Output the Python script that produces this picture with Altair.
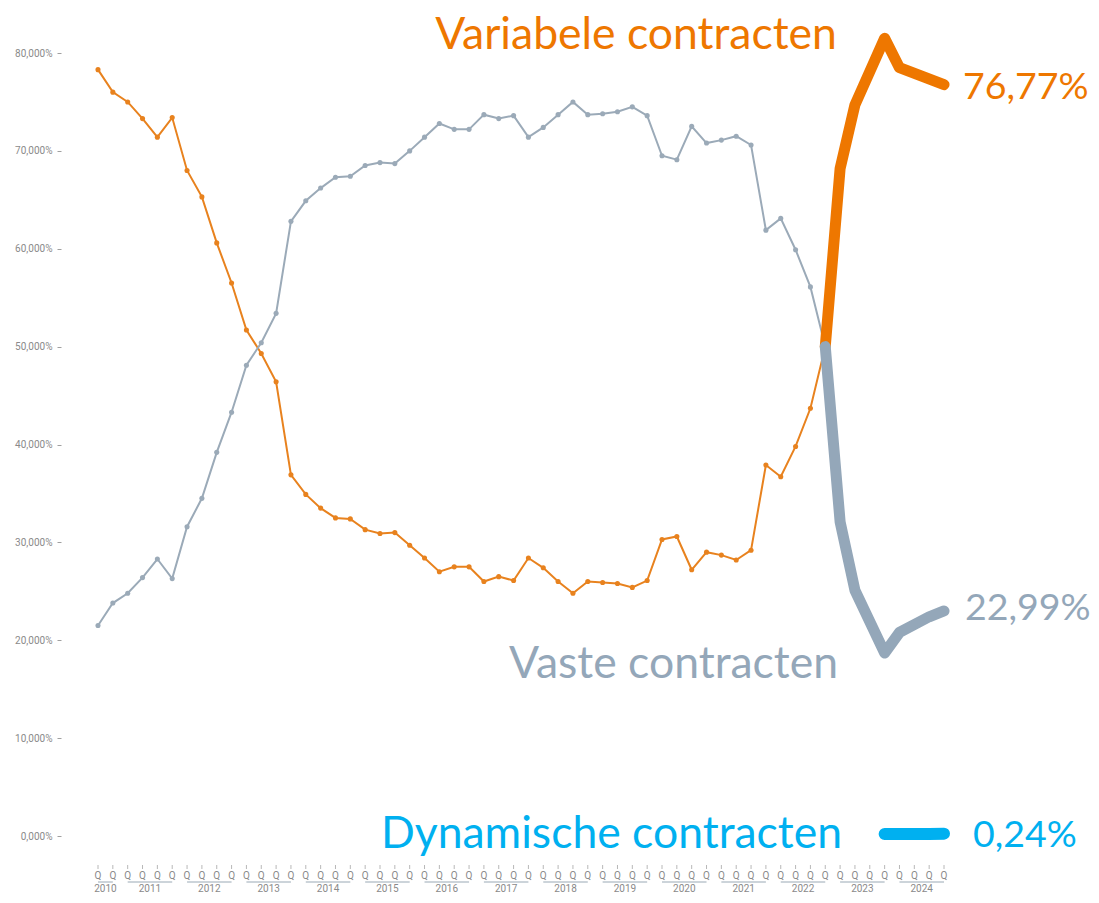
import altair as alt
import pandas as pd

# ---------------- data ----------------
years = [2010, 2011, 2012, 2013, 2014, 2015, 2016, 2017, 2018, 2019, 2020, 2021, 2022, 2023, 2024]
quarters_2010 = [3, 4]          # the series starts in 2010 Q3
quarters_full = [1, 2, 3, 4]

# thin series (2010 Q3 .. 2022 Q4), percent
variabel_thin = [78.3, 76.0, 75.0, 73.3, 71.4, 73.4, 68.0, 65.3, 60.6, 56.5,
                 51.7, 49.3, 46.4, 36.9, 34.9, 33.5, 32.5, 32.4, 31.3, 30.9,
                 31.0, 29.7, 28.4, 27.0, 27.5, 27.5, 26.0, 26.5, 26.1, 28.4,
                 27.4, 26.0, 24.8, 26.0, 25.9, 25.8, 25.4, 26.1, 30.3, 30.6,
                 27.2, 29.0, 28.7, 28.2, 29.2, 37.9, 36.7, 39.8, 43.7, 50.0]
vast_thin = [21.5, 23.8, 24.8, 26.4, 28.3, 26.3, 31.6, 34.5, 39.2, 43.3,
             48.1, 50.4, 53.4, 62.8, 64.9, 66.2, 67.3, 67.4, 68.5, 68.8,
             68.7, 70.0, 71.4, 72.8, 72.2, 72.2, 73.7, 73.3, 73.6, 71.4,
             72.4, 73.7, 75.0, 73.7, 73.8, 74.0, 74.5, 73.6, 69.5, 69.1,
             72.5, 70.8, 71.1, 71.5, 70.6, 61.9, 63.1, 59.9, 56.1, 50.0]

# thick highlighted series (quarter index, percent)
variabel_thick_idx = [49, 50, 51, 53, 54, 57]
variabel_thick = [50.0, 68.2, 74.7, 81.5, 78.5, 76.77]
vast_thick_idx = [49, 50, 51, 53, 54, 56, 57]
vast_thick = [50.0, 32.1, 25.1, 18.7, 20.8, 22.4, 22.99]
dynamisch_thick_idx = [53, 54, 55, 56, 57]
dynamisch_thick = [0.2, 0.2, 0.2, 0.2, 0.24]

labels_text = ["Variabele contracten", "Vaste contracten", "Dynamische contracten",
               "76,77%", "22,99%", "0,24%"]

# ---------------- tables ----------------
q_rows = []
for y in years:
    for q in (quarters_2010 if y == 2010 else quarters_full):
        q_rows.append({"idx": len(q_rows), "year": y, "q": q, "label": "Q"})
qdf = pd.DataFrame(q_rows)
year_df = qdf.groupby("year").agg(first=("idx", "min"), last=("idx", "max")).reset_index()
year_df["mid"] = (year_df["first"] + year_df["last"]) / 2
year_df["label"] = year_df["year"].astype(str)

thin_df = pd.concat([
    pd.DataFrame({"idx": range(len(variabel_thin)), "value": variabel_thin, "serie": "Variabel"}),
    pd.DataFrame({"idx": range(len(vast_thin)), "value": vast_thin, "serie": "Vast"}),
])
pts_df = thin_df[thin_df["idx"] < len(variabel_thin) - 1]

C_OR_THIN = "#E8821E"
C_GR_THIN = "#9BAAB8"
C_OR = "#EE7700"
C_GR = "#94A7B9"
C_BL = "#00B0F0"
FONT = "Lato"
AX_COL = "#8a8a8a"

PXQ = 846 / 57          # px per quarter
PXP = 783 / 80          # px per percentage point
W, H = 1030, 828
x_min = -37 / PXQ
x_max = x_min + W / PXQ
y_max = H / PXP

xs = alt.Scale(domain=[x_min, x_max], nice=False, zero=False)
ys = alt.Scale(domain=[0, y_max], nice=False, zero=False)

color_thin = alt.Scale(domain=["Variabel", "Vast"], range=[C_OR_THIN, C_GR_THIN])

thin_lines = alt.Chart(thin_df).mark_line(strokeWidth=2).encode(
    x=alt.X("idx:Q", scale=xs, axis=None),
    y=alt.Y("value:Q", scale=ys,
            axis=alt.Axis(values=[0, 10, 20, 30, 40, 50, 60, 70, 80],
                          labelExpr="replace(format(datum.value, '.3f'), '.', ',') + '%'",
                          title=None, domain=False, grid=False, tickSize=4, tickColor="#a0a0a0",
                          labelPadding=5, labelFontSize=10, labelColor=AX_COL,
                          labelFont="Roboto")),
    color=alt.Color("serie:N", scale=color_thin, legend=None),
    detail="serie:N",
)
thin_points = alt.Chart(pts_df).mark_circle(size=26, opacity=1).encode(
    x=alt.X("idx:Q", scale=xs, axis=None),
    y=alt.Y("value:Q", scale=ys),
    color=alt.Color("serie:N", scale=color_thin, legend=None),
)

def thick(idx, vals, color, width):
    df = pd.DataFrame({"idx": idx, "value": vals})
    return alt.Chart(df).mark_line(strokeWidth=width, strokeCap="round",
                                   strokeJoin="round", color=color).encode(
        x=alt.X("idx:Q", scale=xs, axis=None), y=alt.Y("value:Q", scale=ys))

thick_or = thick(variabel_thick_idx, variabel_thick, C_OR, 11)
thick_gr = thick(vast_thick_idx, vast_thick, C_GR, 11)
thick_bl = thick(dynamisch_thick_idx, dynamisch_thick, C_BL, 12)

# annotations: text, x (quarter idx), y (percent), align, dx, color, size
ann = pd.DataFrame({
    "text": labels_text,
    "x": [36.25, 49.86, 50.13, 57, 57, 57],
    "y": [80.4, 16.14, -1.23, 75.3, 22.07, -1.12],
    "align": ["center", "right", "right", "left", "left", "left"],
    "dx": [0, 0, 0, 19, 21, 29],
    "color": [C_OR, C_GR, C_BL, C_OR, C_GR, C_BL],
    "size": [44.5, 44.5, 44.5, 37.5, 37.5, 37.5],
})
ann_layers = []
for _, r in ann.iterrows():
    ann_layers.append(
        alt.Chart(pd.DataFrame([r])).mark_text(
            align=r["align"], baseline="alphabetic", dx=int(r["dx"]), font=FONT,
            fontSize=float(r["size"]), color=r["color"]).encode(
            x=alt.X("x:Q", scale=xs, axis=None), y=alt.Y("y:Q", scale=ys), text="text:N"))

# quarter ticks + labels, year labels and brackets (pixel rows below the plot)
q_ticks = alt.Chart(qdf).mark_rule(color="#b8b8b8", strokeWidth=1).encode(
    x=alt.X("idx:Q", scale=xs, axis=None), y=alt.value(857), y2=alt.value(861))
q_text = alt.Chart(qdf).mark_text(
    font="Roboto", fontSize=10, color=AX_COL, baseline="middle").encode(
    x=alt.X("idx:Q", scale=xs, axis=None), y=alt.value(868), text="label:N")
year_rule = alt.Chart(year_df).mark_rule(color="#9aa9b5", strokeWidth=1).encode(
    x=alt.X("first:Q", scale=xs, axis=None), x2="last:Q", y=alt.value(874))
year_text = alt.Chart(year_df).mark_text(
    font="Roboto", fontSize=10, color=AX_COL, baseline="middle").encode(
    x=alt.X("mid:Q", scale=xs, axis=None), y=alt.value(881), text="label:N")

chart = alt.layer(
    thin_lines, thin_points, thick_or, thick_gr, thick_bl,
    q_ticks, q_text, year_rule, year_text, *ann_layers
).properties(
    width=W, height=H,
    padding={"left": 53, "top": 0, "right": 0, "bottom": 58},
    autosize=alt.AutoSizeParams(type="none"),
    background="white",
).configure_view(strokeWidth=0, stroke="transparent")

chart.save("out.html", embed_options={"renderer": "svg", "actions": False})
